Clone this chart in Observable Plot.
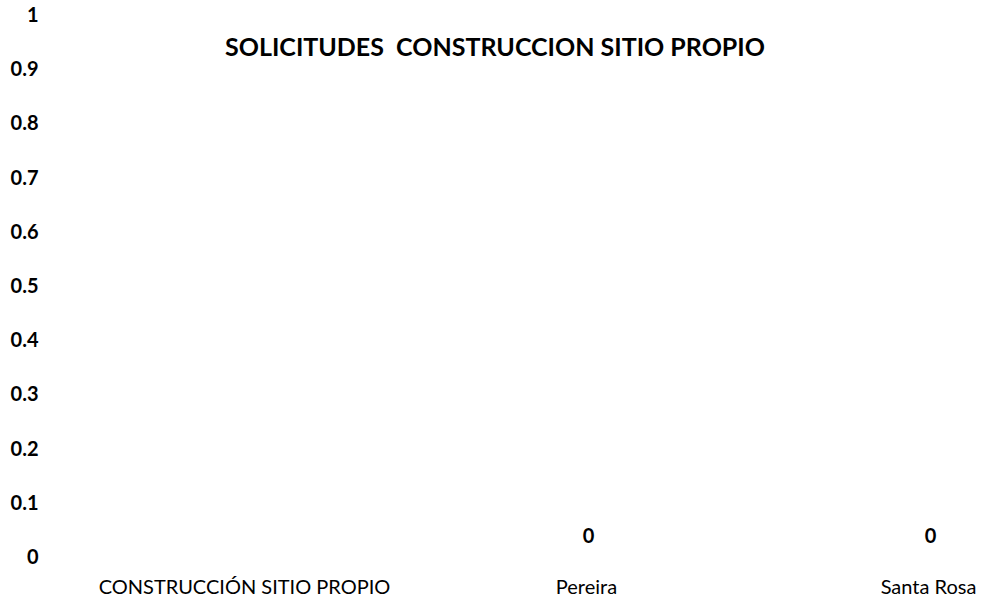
<!DOCTYPE html>
<html>
<head>
<meta charset="utf-8">
<script src="https://cdn.jsdelivr.net/npm/d3@7"></script>
<script src="https://cdn.jsdelivr.net/npm/@observablehq/plot@0.6"></script>
<style>
  html, body { margin: 0; padding: 0; background: #fff; }
  #wrap { position: relative; width: 982px; height: 601px; }
  #title { position: absolute; left: 0; width: 990px; top: 31px; text-align: center;
    font-family: Lato, "Open Sans", sans-serif; font-weight: bold; font-size: 25px; color: #000; }
</style>
</head>
<body>
<div id="wrap">
  <div id="title">SOLICITUDES&nbsp; CONSTRUCCION SITIO PROPIO</div>
</div>
<script>
const categories = ["CONSTRUCCIÓN SITIO PROPIO", "Pereira", "Santa Rosa"];
const values = [null, 0, 0];
const yTicks = [0, 0.1, 0.2, 0.3, 0.4, 0.5, 0.6, 0.7, 0.8, 0.9, 1];
const yTickLabels = ["0", "0.1", "0.2", "0.3", "0.4", "0.5", "0.6", "0.7", "0.8", "0.9", "1"];

const data = categories.map((c, i) => ({category: c, value: values[i]}));
const shown = data.filter(d => d.value != null);

const chart = Plot.plot({
  width: 982,
  height: 601,
  marginTop: 15,
  marginBottom: 44,
  marginLeft: 42,
  marginRight: 0,
  style: {fontFamily: "Lato, 'Open Sans', sans-serif", color: "#000", background: "#fff"},
  x: {type: "band", domain: categories, range: [73, 1099], paddingInner: 0, paddingOuter: 0},
  y: {domain: [0, 1]},
  marks: [
    Plot.axisY({ticks: yTicks, tickFormat: (d, i) => yTickLabels[i], tickSize: 0, tickPadding: 4,
      fontSize: 20, fontWeight: "bold", label: null}),
    Plot.axisX({tickSize: 0, tickPadding: 22, fontSize: 20, label: null}),
    Plot.barY(shown, {x: "category", y: "value", fill: "#4472c4", inset: 60}),
    Plot.text(shown, {x: "category", y: "value", text: d => String(d.value), dy: -21, dx: 2,
      fontSize: 20, fontWeight: "bold"})
  ]
});
document.getElementById("wrap").prepend(chart);
chart.style.position = "absolute";
chart.style.left = "0";
chart.style.top = "0";
</script>
</body>
</html>
